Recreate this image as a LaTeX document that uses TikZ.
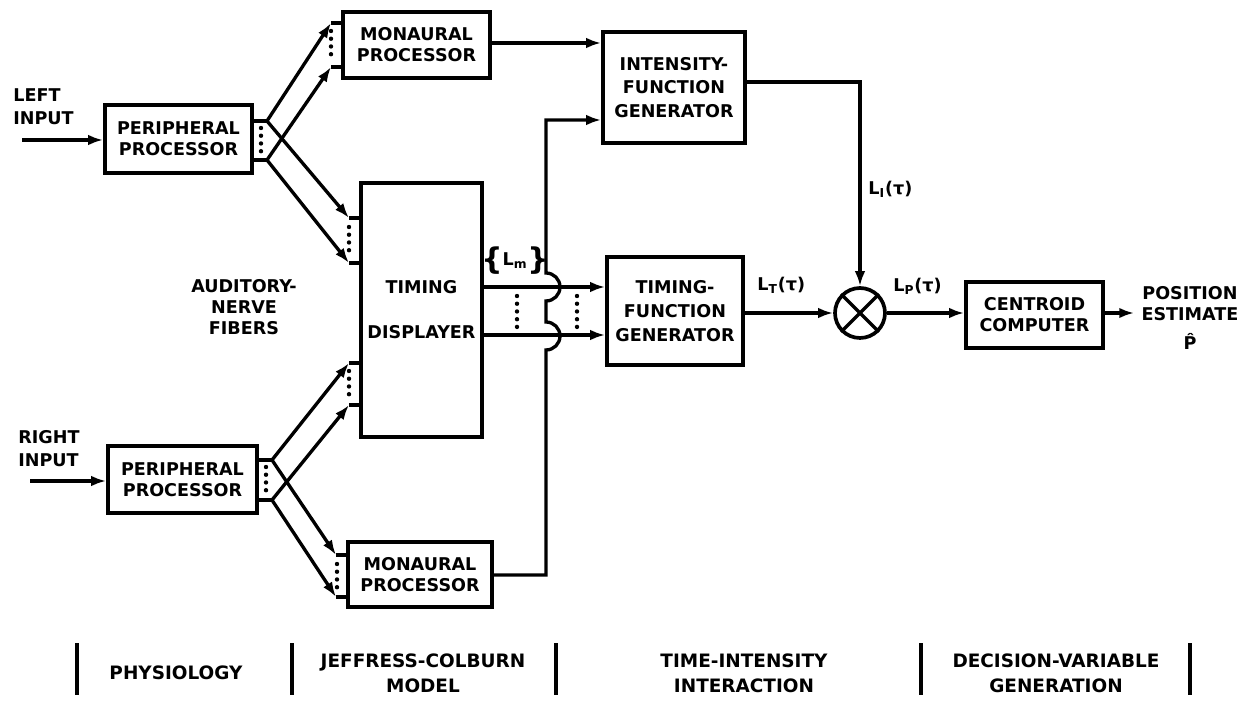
\documentclass[tikz,border=0pt]{standalone}
\usepackage{fontspec}
\setmainfont{DejaVu Sans}
\usepackage{tikz}
\usetikzlibrary{arrows.meta}

\newcommand{\bigbrace}[1]{\raisebox{-2.5pt}{\fontsize{17}{17}\selectfont#1}}

\tikzset{
  blk/.style={draw, line width=2.1pt, inner sep=0pt, align=center,
    font=\fontsize{10}{12}\selectfont\bfseries},
  lbl/.style={inner sep=0pt, align=center, font=\fontsize{10}{12}\selectfont\bfseries},
  stage/.style={lbl, font=\fontsize{10.5}{13}\selectfont\bfseries},
  wire/.style={line width=1.9pt},
  sig/.style={wire, -{Latex[length=8.5pt, width=6pt]}},
  fibre/.style={line width=2.5pt, line cap=round, dash pattern=on 0pt off 4.4pt},
}

\begin{document}
\begin{tikzpicture}[x=0.02cm, y=-0.02cm]
    \useasboundingbox (0,0) rectangle (1247,705);

    %% --- Processing blocks ---
    \node[blk, minimum width=2.94cm, minimum height=1.36cm] (ppL) at (178.5,139) {PERIPHERAL\\PROCESSOR};
    \node[blk, minimum width=2.98cm, minimum height=1.34cm] (ppR) at (182.5,479.5) {PERIPHERAL\\PROCESSOR};
    \node[blk, minimum width=2.94cm, minimum height=1.32cm] (monU) at (416.5,45) {MONAURAL\\PROCESSOR};
    \node[blk, minimum width=2.88cm, minimum height=1.30cm] (monD) at (420,574.5) {MONAURAL\\PROCESSOR};
    \node[blk, minimum width=2.42cm, minimum height=5.08cm] (td) at (421.5,310) {TIMING\\[0.48cm]DISPLAYER};
    \node[blk, minimum width=2.84cm, minimum height=2.22cm] (ifg) at (674,87.5) {INTENSITY-\\[1.5pt]FUNCTION\\[1.5pt]GENERATOR};
    \node[blk, minimum width=2.72cm, minimum height=2.16cm] (tfg) at (675,311) {TIMING-\\[1.5pt]FUNCTION\\[1.5pt]GENERATOR};
    \node[blk, minimum width=2.74cm, minimum height=1.32cm] (cc) at (1034.5,315) {CENTROID\\COMPUTER};

    %% Multiplier
    \node[draw, circle, line width=2.1pt, minimum size=1.0cm, inner sep=0pt] (mult) at (860,313) {};
    \draw[wire] (mult.north west) -- (mult.south east) (mult.north east) -- (mult.south west);

    %% --- Texts ---
    \node[lbl, align=left, anchor=west] (inL) at (13,106.5) {LEFT\\[1pt]INPUT};
    \node[lbl, align=left, anchor=west] (inR) at (18,449) {RIGHT\\[1pt]INPUT};
    \node[lbl] (anf) at (244,307) {AUDITORY-\\NERVE\\FIBERS};
    \node[lbl] (posn) at (1190,318) {POSITION\\ESTIMATE\\[5pt]P\char"0302};
    \node[lbl] (lm) at (515,261) {\bigbrace{\{}L\textsubscript{m}\bigbrace{\}}};
    \node[lbl, anchor=base west] (lt) at (757,291) {L\textsubscript{T}(τ)};
    \node[lbl, anchor=base west] (li) at (868,195) {L\textsubscript{I}(τ)};
    \node[lbl, anchor=base west] (lp) at (893,292) {L\textsubscript{P}(τ)};

    %% --- Inputs ---
    \coordinate (lin) at (22,140);
    \coordinate (rin) at (30,481);
    \draw[sig] (lin) -- (ppL.west |- lin);
    \draw[sig] (rin) -- (ppR.west |- rin);

    %% --- Fibre bundles out of the peripheral processors ---
    \coordinate (tL) at (267,121);
    \coordinate (bL) at (267,160);
    \coordinate (tR) at (272,460);
    \coordinate (bR) at (272,500);
    \draw[wire] (ppL.east |- tL) -- (tL);
    \draw[wire] (ppL.east |- bL) -- (bL);
    \draw[wire] (ppR.east |- tR) -- (tR);
    \draw[wire] (ppR.east |- bR) -- (bR);
    \draw[fibre] (261,128) -- (261,154);
    \draw[fibre] (266,467) -- (266,493);

    \foreach \s/\x/\y/\m in {tL/331/23/monU, bL/331/67/monU, tL/349/218/td, bL/349/263/td,
                             tR/349/363/td, bR/349/405/td, tR/336/555/monD, bR/336/597/monD}
    {
        \draw[sig] (\s) -- (\x,\y);
        \draw[wire] (\x,\y) -- (\m.west |- 0,\y);
    }
    \draw[fibre] (331,31) -- (331,59);
    \draw[fibre] (349,227) -- (349,255);
    \draw[fibre] (349,371) -- (349,398);
    \draw[fibre] (337,564) -- (337,589);

    %% --- Timing lines {Lm} ---
    \draw[sig] (td.east |- 0,287) -- (tfg.west |- 0,287);
    \draw[sig] (td.east |- 0,335) -- (tfg.west |- 0,335);
    \draw[fibre] (517,296) -- (517,327);
    \draw[fibre] (577,296) -- (577,327);

    %% --- Monaural paths into the intensity function ---
    \draw[sig] (monU.east |- 0,43) -- (ifg.west |- 0,43);
    \draw[sig] (monD.east |- 0,575) -- (546,575) -- (546,350)
        arc[start angle=90, end angle=-90, radius=14] -- (546,301)
        arc[start angle=90, end angle=-90, radius=14] -- (546,120) -- (ifg.west |- 0,120);

    %% --- Decision variable ---
    \draw[sig] (ifg.east |- 0,82) -| (mult.north);
    \draw[sig] (tfg.east |- mult) -- (mult.west);
    \draw[sig] (mult.east) -- (cc.west |- mult);
    \draw[sig, shorten >=4pt] (cc.east |- mult) -- (posn.west |- mult);

    %% --- Stage labels ---
    \foreach \x in {77, 292, 556, 921, 1190}
        \draw[wire] (\x,643) -- (\x,695);
    \node[stage] (phys) at (176,673) {PHYSIOLOGY};
    \node[stage] (jcm) at (423,673) {JEFFRESS-COLBURN\\[1pt]MODEL};
    \node[stage] (tii) at (744,673) {TIME-INTENSITY\\[1pt]INTERACTION};
    \node[stage] (dvg) at (1056,673) {DECISION-VARIABLE\\[1pt]GENERATION};

\end{tikzpicture}
\end{document}
